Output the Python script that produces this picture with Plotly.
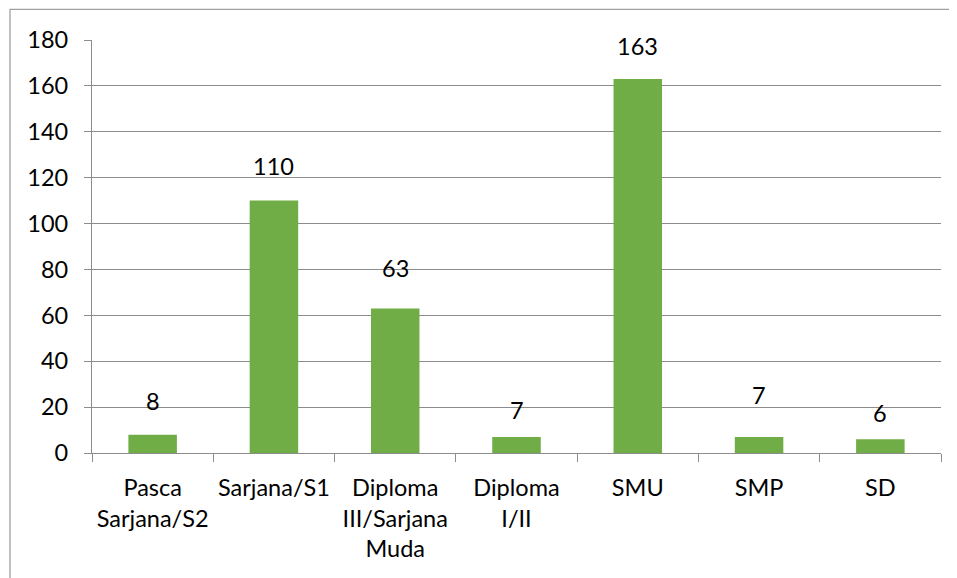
import plotly.graph_objects as go

categories = ["Pasca<br>Sarjana/S2", "Sarjana/S1", "Diploma<br>III/Sarjana<br>Muda",
              "Diploma<br>I/II", "SMU", "SMP", "SD"]
values = [8, 110, 63, 7, 163, 7, 6]
label_shift = [34, 35, 40, 27, 33, 42, 26]
y_ticks = [0, 20, 40, 60, 80, 100, 120, 140, 160, 180]

FONT = "Lato"
FS = 23.5
GRAY = "#8c8c8c"

fig = go.Figure()
fig.add_trace(go.Bar(
    x=categories, y=values,
    marker=dict(color="#70AD47", line=dict(width=0)),
    hoverinfo="skip",
))

for c, v, s in zip(categories, values, label_shift):
    fig.add_annotation(x=c, y=v, text=str(v), showarrow=False, yshift=s,
                       font=dict(family=FONT, size=FS, color="#000000"),
                       xanchor="center", yanchor="middle")

fig.add_shape(type="rect", xref="paper", yref="paper",
              x0=-0.0966, x1=1.05, y0=-0.5, y1=1.074,
              line=dict(color="#a0a0a0", width=1.3), fillcolor="rgba(0,0,0,0)",
              layer="below")

fig.update_layout(
    width=957, height=578,
    margin=dict(l=84, r=24, t=31.5, b=132.7, pad=0, autoexpand=False),
    paper_bgcolor="white", plot_bgcolor="white",
    showlegend=False, bargap=0.6,
    font=dict(family=FONT, size=FS, color="#000000"),
)
fig.update_xaxes(
    showline=True, linecolor=GRAY, linewidth=1.3,
    ticks="outside", tickson="boundaries", ticklen=8, tickcolor=GRAY, tickwidth=1.3,
    showgrid=False, tickfont=dict(family=FONT, size=FS, color="#000000"),
    ticklabelstandoff=14, tickangle=0, automargin=False,
)
fig.update_yaxes(
    range=[0, 180], tickvals=y_ticks,
    showline=True, linecolor=GRAY, linewidth=1.3,
    ticks="outside", ticklen=7, tickcolor=GRAY, tickwidth=1.3,
    showgrid=True, gridcolor=GRAY, gridwidth=1.3,
    zeroline=False, automargin=False,
    tickfont=dict(family=FONT, size=FS, color="#000000"),
    ticklabelstandoff=11,
)

fig.write_html("out.html")
